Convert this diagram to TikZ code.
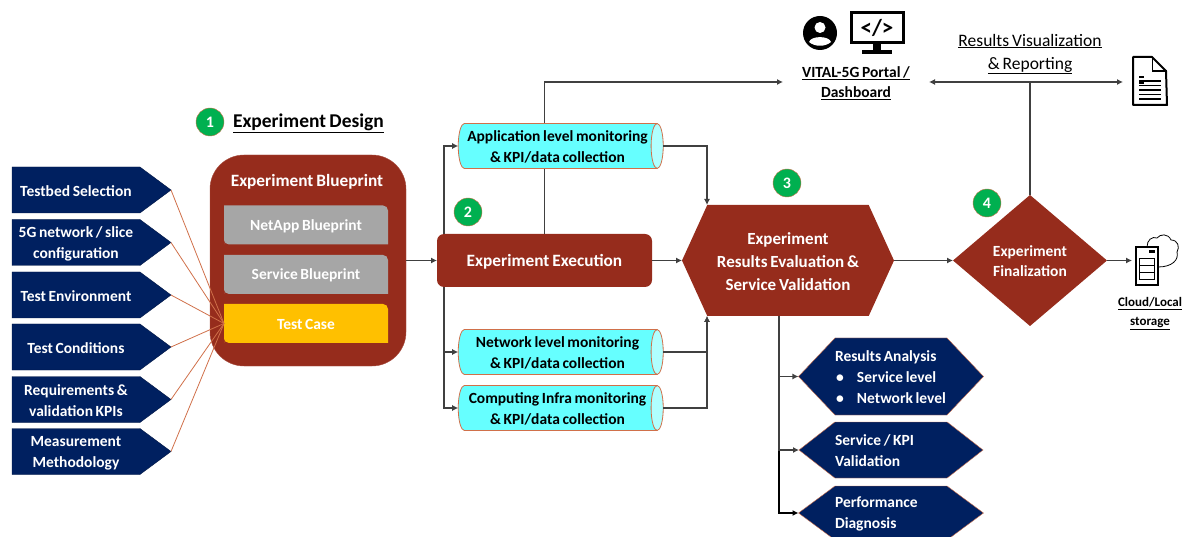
\documentclass[tikz,border=0pt]{standalone}
\usepackage{fontspec}
\setmainfont[WordSpace=0.75]{Carlito}
\usepackage{tikz}
\usetikzlibrary{arrows.meta,shapes.geometric,shapes.symbols}
\definecolor{navy}{HTML}{002060}
\definecolor{brick}{HTML}{962C1C}
\definecolor{ash}{HTML}{A6A6A6}
\definecolor{amber}{HTML}{FFC000}
\definecolor{aqua}{HTML}{66FFFF}
\definecolor{paleaqua}{HTML}{B0FFFF}
\definecolor{rust}{HTML}{D0704A}
\definecolor{leaf}{HTML}{00B050}
\begin{document}
\begin{tikzpicture}[x=1pt,y=1pt]
	\tikzstyle{every node}+=[inner sep=0pt,outer sep=0pt]
	\tikzstyle{txtm}=[font=\bfseries\fontsize{15.5}{21}\selectfont,align=flush center,text height=13pt]
	\tikzstyle{inputtag}=[txtm,shape=signal,signal to=east,signal pointer angle=73,fill=navy,draw=navy!70!black,text=white,minimum width=159pt,minimum height=46pt,anchor=west,text width=125pt]
	\tikzstyle{bluebox}=[txtm,text=white,minimum width=164pt,minimum height=39pt,path picture={\fill [#1] (path picture bounding box.south west) -- (path picture bounding box.north west) [rounded corners=5pt] -- (path picture bounding box.north east) [sharp corners] -- (path picture bounding box.south east) [rounded corners=5pt] -- (path picture bounding box.south west) [sharp corners] -- cycle;}]
	\tikzstyle{montube}=[txtm,shape=cylinder,shape aspect=0.35,cylinder uses custom fill,cylinder body fill=aqua,cylinder end fill=paleaqua,draw=rust,line width=0.8pt,minimum width=45pt,minimum height=205pt,text=black,text width=185pt]
	\tikzstyle{outtag}=[txtm,shape=signal,signal to=east and west,fill=navy,draw=rust,text=white,minimum width=184pt,text width=112pt,align=flush left]
	\tikzstyle{badge}=[circle,fill=leaf,draw=rust,minimum size=28pt,text=white,font=\bfseries\fontsize{16}{16}\selectfont]
	\tikzstyle{link}=[draw=black!75,line width=1.1pt,-{Latex[length=6pt,width=6pt]}]
	\tikzstyle{orange}=[draw=rust,line width=0.8pt]
	\path[use as bounding box,clip] (0,0) rectangle (1189,-537);

	\node [badge] (badge1) at (210,-122) {1};
	\node [font=\bfseries\fontsize{19.5}{21}\selectfont,anchor=west] (design) at (233,-123) {\underline{Experiment Design}};

	\node [inputtag] (tag1) at (12,-190) {Testbed Selection};
	\node [inputtag] (tag2) at (12,-242.5) {5G network / slice\\configuration};
	\node [inputtag] (tag3) at (12,-295) {Test Environment};
	\node [inputtag] (tag4) at (12,-347) {Test Conditions};
	\node [inputtag] (tag5) at (12,-399.5) {Requirements \&\\validation KPIs};
	\node [inputtag] (tag6) at (12,-451.5) {Measurement\\Methodology};

	\node [draw=brick!85!white,fill=brick,rounded corners=34pt,minimum width=196pt,minimum height=211pt] (blueprint) at (308,-260.5) {};
	\node [font=\bfseries\fontsize{17.3}{21}\selectfont,text=white] (bptitle) at (307,-182) {Experiment Blueprint};
	\node [bluebox=ash] (netapp) at (306,-225) {NetApp Blueprint};
	\node [bluebox=ash] (service) at (306,-274.5) {Service Blueprint};
	\node [bluebox=amber] (testcase) at (306,-323.5) {Test Case};
	\foreach \i in {1,...,6}
		\draw [orange] (tag\i.east) -- (testcase.west);

	\node [txtm,font=\bfseries\fontsize{15.5}{20}\selectfont,text width=146pt] (portal) at (856,-82) {\underline{VITAL-5G Portal /}\\\underline{Dashboard}};
	\node [fill=brick,rounded corners=7pt,minimum width=215pt,minimum height=53pt,text=white,font=\bfseries\fontsize{17.3}{21}\selectfont,text height=15pt,text depth=3.5pt] (exec) at (544.5,-260.5) {Experiment Execution};
	\draw [link] (exec.north) |- (portal.west);
	\node [montube] (appmon) at (557.5,-146) {Application level monitoring\\\& KPI/data collection};
	\node [montube] (netmon) at (557.5,-352) {Network level monitoring\\\& KPI/data collection};
	\node [montube] (compmon) at (557.5,-408) {Computing Infra monitoring\\\& KPI/data collection};
	\node [badge] (badge2) at (468,-212) {2};

	\node [shape=signal,signal to=east and west,signal pointer angle=131,fill=brick,text=white,minimum width=212pt,minimum height=111pt,font=\bfseries\fontsize{17}{23}\selectfont,align=flush center,text width=160pt,text height=14.5pt] (eval) at (788,-260.5) {Experiment\\Results Evaluation \&\\Service Validation};
	\node [badge] (badge3) at (787,-183) {3};
	\node [shape=diamond,fill=brick,text=white,minimum width=154pt,minimum height=131pt,font=\bfseries\fontsize{15.5}{20}\selectfont,align=flush center,text width=90pt,text height=13pt] (final) at (1030,-260.5) {Experiment\\Finalization};
	\node [badge] (badge4) at (987,-203) {4};

	\coordinate (split) at (444,-260);
	\coordinate (evaltop) at (707,-205);
	\coordinate (evalbot) at (707,-316);
	\coordinate (evalout) at (779,-316);
	\draw [link] (blueprint.east) -- (exec.west);
	\draw [link] (split |- exec.north) |- (appmon.west);
	\draw [link] (split |- exec.south) |- (netmon.west);
	\draw [link] (split |- exec.south) |- (compmon.west);
	\draw [link] (exec.east) -- (eval.west);
	\draw [link] (appmon.east) -| (evaltop);
	\draw [link] (netmon.east) -| (evalbot);
	\draw [link] (compmon.east) -| (evalbot);
	\draw [link] (eval.east) -- (final.west);

	\node [outtag,signal pointer angle=93,minimum height=77pt] (analysis) at (891,-376.5) {Results Analysis\\\mbox{\makebox[22pt][l]{\hspace{1pt}•}Service level}\\\mbox{\makebox[22pt][l]{\hspace{1pt}•}Network level}};
	\node [outtag,signal pointer angle=76,minimum height=56pt] (validation) at (891,-450) {Service / KPI\\Validation};
	\node [outtag,signal pointer angle=73,minimum height=54pt] (diagnosis) at (891,-513) {Performance\\Diagnosis};
	\draw [link,draw=black,line width=1.6pt] (evalout) |- (diagnosis.west);
	\draw [link] (evalout) |- (analysis.west);
	\draw [link] (evalout) |- (validation.west);

	\node [font=\fontsize{17.5}{23}\selectfont,align=center] (visual) at (1030,-54) {\underline{Results Visualization}\\\underline{\& Reporting}};
	\node [minimum width=34pt,minimum height=48pt] (report) at (1150,-81) {};
	\coordinate (reportin) at (1123,-82);
	\draw [link,{Latex[length=6pt,width=6pt]}-{Latex[length=6pt,width=6pt]}] (portal.east) -- (reportin);
	\draw [draw=black!75,line width=1.1pt] (final.north) -- (final.north |- reportin);

	\fill [black] (820,-33) circle (17);
	\fill [white] (820,-27.5) circle (5.5);
	\fill [white] (809,-42) .. controls (811,-35.5) and (829,-35.5) .. (831,-42) .. controls (825,-47) and (815,-47) .. (809,-42);
	\draw [black,line width=3pt] (851,-12.5) rectangle (903,-43);
	\fill [black] (873,-43) rectangle (881,-51);
	\fill [black] (862,-50) rectangle (892,-54);
	\node [font=\bfseries\fontsize{23}{23}\selectfont] (code) at (877,-27.5) {</>};

	\draw [black,line width=2pt,line join=round] (report.north west) -- ++(19,0) -- ++(14,-14) -- (report.south east) -- (report.south west) -- cycle;
	\draw [black,line width=1.5pt] (1152.5,-58) -- ++(0,-13) -- ++(14,0);
	\foreach \ly in {-77,-83}
		\draw [black,line width=1.5pt] (1139,\ly) -- ++(5,0);
	\foreach \ly in {-81,-85.5,-90,-94.5,-99}
		\draw [black,line width=1.5pt] (1139,\ly) -- ++(22,0);

	\node [minimum width=22pt,minimum height=38pt,draw=black,line width=1.2pt,fill=white] (server) at (1147,-266) {};
	\coordinate (storagein) at (1132,-260.5);
	\draw [link] (final.east) -- (storagein);
	\draw [black,line width=0.8pt] (1147,-247) .. controls (1147,-240) and (1152,-236) .. (1157,-238) .. controls (1160,-234) and (1168,-233) .. (1171,-240) .. controls (1178,-240) and (1180,-247) .. (1177,-252) .. controls (1179,-260) and (1172,-267) .. (1158,-267);
	\fill [black] (1149,-250.5) rectangle (1155,-253);
	\foreach \ly in {-258,-265,-272}
		\draw [black,line width=0.9pt] (1139.5,\ly) rectangle (1154.5,\ly-7);
	\node [font=\bfseries\fontsize{13}{19}\selectfont,align=center] (storage) at (1150,-314) {\underline{Cloud/Local}\\\underline{storage}};
\end{tikzpicture}
\end{document}
